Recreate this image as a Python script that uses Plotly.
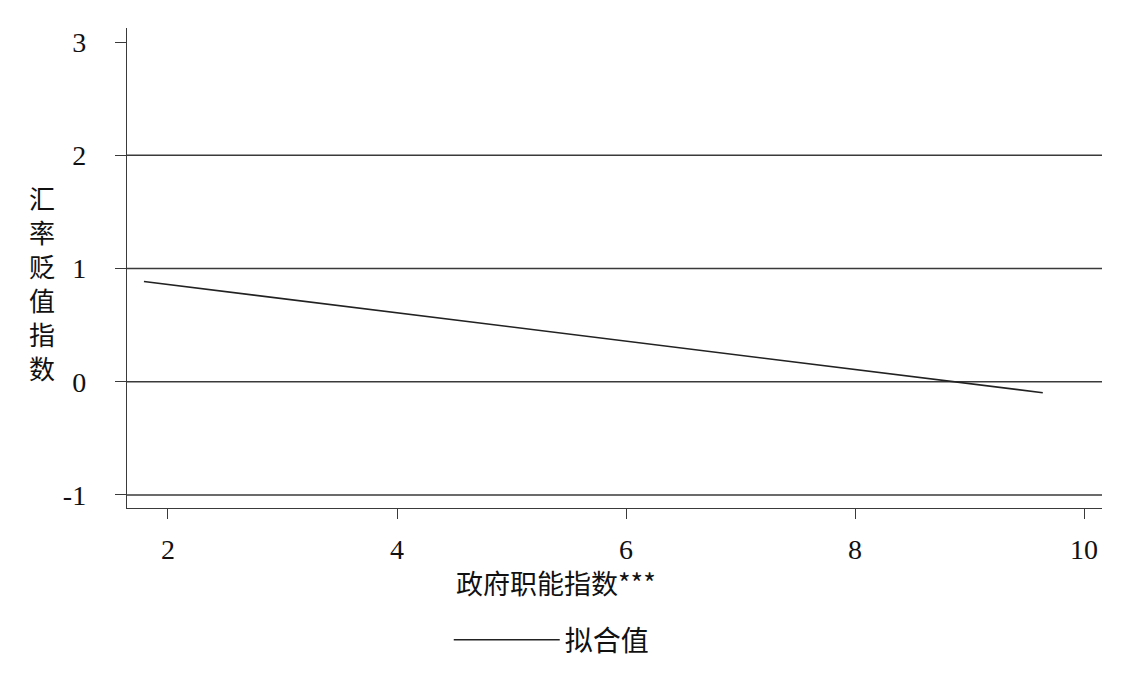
import plotly.graph_objects as go

# fitted line (政府职能指数 vs 汇率贬值指数)
fit_x = [1.79, 9.64]
fit_y = [0.885, -0.097]

y_ticks = [-1, 0, 1, 2, 3]
y_labels = ["-1", "0", "1", "2", "3"]
grid_values = [-1, 0, 1, 2]
x_ticks = [2, 4, 6, 8, 10]

y_title = "汇率贬值指数"
x_title = "政府职能指数***"
series_name = "拟合值"

serif = "Liberation Serif, Times New Roman, Noto Sans CJK SC"
cjk = "Noto Sans CJK SC"
ink = "#3a3a3a"

fig = go.Figure()
fig.add_trace(go.Scatter(
    x=fit_x, y=fit_y, mode="lines", name=series_name,
    line=dict(color="#222222", width=1.6),
    showlegend=True,
))

for g in grid_values:
    fig.add_shape(type="line", xref="paper", yref="y",
                  x0=0, x1=1, y0=g, y1=g,
                  line=dict(color=ink, width=1.4), layer="below")

# vertical y title, one character per row (34px apart)
title_notes = []
for i, ch in enumerate(y_title):
    title_notes.append(dict(
        text=ch, xref="paper", yref="paper",
        x=-0.087, xanchor="center", y=0.646 - i * 34 / 480, yanchor="middle",
        showarrow=False, font=dict(size=26, family=cjk),
    ))

title_notes.append(dict(
    text=x_title, xref="paper", yref="paper",
    x=0.44, xanchor="center", y=-0.156, yanchor="middle",
    showarrow=False, font=dict(size=27, family=cjk),
))

# page body adds an 8px offset, so margins are trimmed to compensate
fig.update_layout(
    width=1132, height=684,
    margin=dict(l=119, r=38, t=20, b=184, autoexpand=False),
    plot_bgcolor="white", paper_bgcolor="white",
    font=dict(family=serif, size=28, color="#111111"),
    showlegend=True,
    legend=dict(
        orientation="h", x=0.33, xanchor="left", y=-0.275, yanchor="middle",
        itemwidth=106, font=dict(size=28, family=cjk),
    ),
    xaxis=dict(
        range=[1.642, 10.157], tickvals=x_ticks,
        showgrid=False, zeroline=False, automargin=False,
        showline=True, linecolor=ink, linewidth=1.4,
        ticks="outside", ticklen=10, tickwidth=1.2, tickcolor=ink,
        tickfont=dict(size=28, family=serif), ticklabelstandoff=6,
    ),
    yaxis=dict(
        range=[-1.115, 3.124], tickvals=y_ticks, ticktext=y_labels,
        showgrid=False, zeroline=False, automargin=False,
        showline=True, linecolor=ink, linewidth=1.4,
        ticks="outside", ticklen=11, tickwidth=1.2, tickcolor=ink,
        tickfont=dict(size=28, family=serif), ticklabelstandoff=23,
    ),
    annotations=title_notes,
)

fig.write_html("out.html")
